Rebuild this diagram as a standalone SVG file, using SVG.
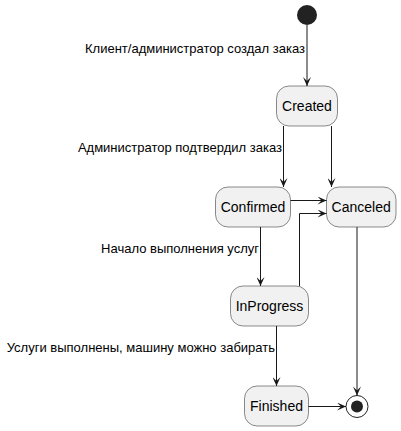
<svg xmlns="http://www.w3.org/2000/svg" width="401" height="431" viewBox="0 0 401 431">
<style>
.st{fill:#F1F1F1;stroke:#181818;stroke-width:0.5}
.sn{font-family:"Liberation Sans",Arial,sans-serif;font-size:14px;fill:#000;text-anchor:middle}
.lb{font-family:"Liberation Sans",Arial,sans-serif;font-size:13px;fill:#000;text-anchor:end}
.ln{fill:none;stroke:#181818;stroke-width:1;marker-end:url(#ah)}
</style>
<defs>
<marker id="ah" markerUnits="userSpaceOnUse" orient="auto" refX="10" refY="4" markerWidth="10" markerHeight="8" viewBox="0 0 10 8">
<path d="M1,0 L10,4 L1,8 L5,4 Z" fill="#181818"/>
</marker>
</defs>
<rect width="401" height="431" fill="#FFFFFF"/>
<g id="start"><circle cx="307" cy="15" r="10" fill="#222222"/></g>
<g id="Created"><rect class="st" x="276.5" y="86" width="61" height="40" rx="12.5"/><text class="sn" x="307" y="111">Created</text></g>
<g id="Confirmed"><rect class="st" x="215.5" y="187" width="75" height="40" rx="12.5"/><text class="sn" x="253" y="212">Confirmed</text></g>
<g id="Canceled"><rect class="st" x="326.5" y="187" width="69.5" height="40" rx="12.5"/><text class="sn" x="361.2" y="212">Canceled</text></g>
<g id="InProgress"><rect class="st" x="230.5" y="286" width="78" height="40" rx="12.5"/><text class="sn" x="269.5" y="311">InProgress</text></g>
<g id="Finished"><rect class="st" x="244.5" y="386" width="64" height="40" rx="12.5"/><text class="sn" x="276.5" y="411">Finished</text></g>
<g id="end"><circle cx="357" cy="406.5" r="11" fill="none" stroke="#222222" stroke-width="1"/><circle cx="357" cy="406.5" r="6" fill="#222222"/></g>
<g id="connectors">
<path class="ln" d="M307,25 L307,86"/>
<path class="ln" d="M283.5,126 L283.5,187"/>
<path class="ln" d="M331.5,126 L331.5,187"/>
<path class="ln" d="M290.5,200.5 L326.5,200.5"/>
<path class="ln" d="M299.5,286 L299.5,213.5 L326.5,213.5"/>
<path class="ln" d="M260.5,227 L260.5,286"/>
<path class="ln" d="M357,227 L357,395.5"/>
<path class="ln" d="M276.5,326 L276.5,386"/>
<path class="ln" d="M308.5,406.5 L346,406.5"/>
<text class="lb" x="305" y="52.5">Клиент/администратор создал заказ</text>
<text class="lb" x="282" y="152">Администратор подтвердил заказ</text>
<text class="lb" x="259" y="252.5">Начало выполнения услуг</text>
<text class="lb" x="275" y="352">Услуги выполнены, машину можно забирать</text>
</g>
</svg>
